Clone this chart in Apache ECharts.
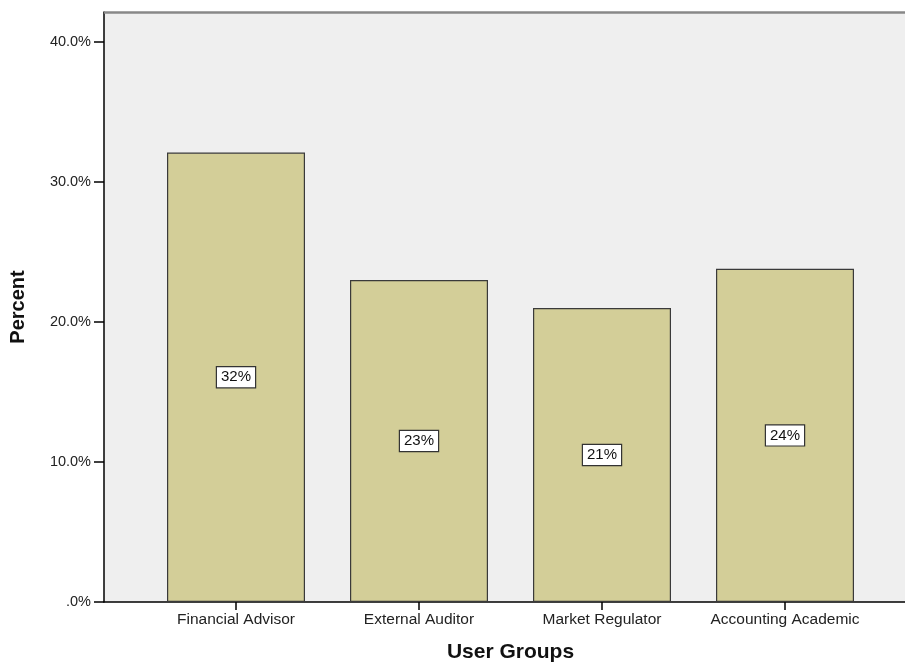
<!DOCTYPE html>
<html>
<head>
<meta charset="utf-8">
<script src="https://cdn.jsdelivr.net/npm/echarts@6/dist/echarts.min.js"></script>
<style>html,body{margin:0;padding:0;background:#fff;}#c{width:905px;height:664px;}</style>
</head>
<body>
<div id="c"></div>
<script>
const categories = ['Financial Advisor', 'External Auditor', 'Market Regulator', 'Accounting Academic'];
const percentValues = [32.1, 23.0, 21.0, 23.8];
const yTicks = [0, 10, 20, 30, 40];

const chart = echarts.init(document.getElementById('c'));
const FONT = '"Liberation Sans", Arial, sans-serif';
const YMAX = 42.14;
chart.setOption({
  animation: false,
  backgroundColor: '#ffffff',
  grid: [
    {left: 144.5, right: 28.5, top: 12, bottom: 62, outerBoundsMode: 'none', containLabel: false},
    {left: 104, right: 0, top: 12, bottom: 62, show: true, backgroundColor: '#efefef', borderWidth: 0, outerBoundsMode: 'none', containLabel: false}
  ],
  xAxis: [
    {
      type: 'category', gridIndex: 0, data: categories,
      axisLine: {show: false},
      axisTick: {show: true, alignWithLabel: true, length: 8, lineStyle: {color: '#000', width: 1.5}},
      axisLabel: {fontFamily: FONT, fontSize: 15.5, color: '#222', margin: 10, interval: 0, hideOverlap: false},
      name: 'User Groups', nameLocation: 'middle', nameGap: 40,
      nameTextStyle: {fontFamily: FONT, fontSize: 21, fontWeight: 'bold', color: '#111'}
    },
    {
      type: 'value', gridIndex: 1, min: 0, max: 1,
      axisLine: {show: true, lineStyle: {color: '#000', width: 1.5}},
      axisTick: {show: false}, axisLabel: {show: false}, splitLine: {show: false}
    }
  ],
  yAxis: [
    {type: 'value', gridIndex: 0, min: 0, max: YMAX, interval: 10, show: false, splitLine: {show: false}},
    {
      type: 'value', gridIndex: 1, min: 0, max: YMAX, interval: 10,
      axisLine: {show: true, lineStyle: {color: '#000', width: 1.5}},
      axisTick: {show: true, length: 10, customValues: yTicks, lineStyle: {color: '#000', width: 1.5}},
      axisLabel: {
        fontFamily: FONT, fontSize: 14.5, color: '#222', margin: 13, customValues: yTicks,
        formatter: v => (v === 0 ? '.0%' : v.toFixed(1) + '%')
      },
      splitLine: {show: false},
      name: 'Percent', nameLocation: 'middle', nameGap: 76,
      nameTextStyle: {fontFamily: FONT, fontSize: 20, fontWeight: 'bold', color: '#111'}
    }
  ],
  graphic: [
    {type: 'line', shape: {x1: 104, y1: 12.5, x2: 905, y2: 12.5}, style: {stroke: '#888', lineWidth: 2.5}, z: 10}
  ],
  series: [{
    type: 'bar', xAxisIndex: 0, yAxisIndex: 0,
    data: percentValues, barWidth: 138,
    itemStyle: {color: '#d3ce98', borderColor: '#3a3a3a', borderWidth: 1.2},
    label: {
      show: true, position: 'inside',
      formatter: p => Math.round(p.value) + '%',
      fontFamily: FONT, fontSize: 15, color: '#111',
      backgroundColor: '#ffffff', borderColor: '#333', borderWidth: 1.2, padding: [3, 4, 2, 4]
    },
    z: 5
  }]
});
</script>
</body>
</html>
